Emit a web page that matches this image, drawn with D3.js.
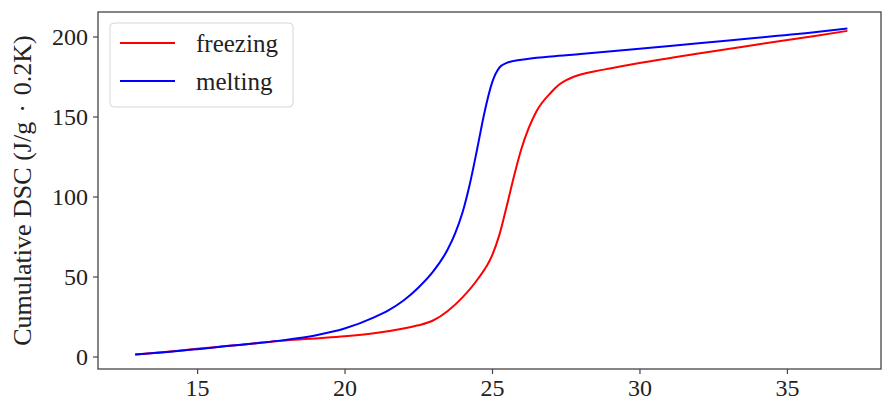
<!DOCTYPE html>
<html>
<head>
<meta charset="utf-8">
<script src="https://cdn.jsdelivr.net/npm/d3@7"></script>
<style>
  html, body { margin: 0; padding: 0; background: #fff; }
  svg { display: block; }
  text { font-family: "Liberation Serif", "Times New Roman", serif; fill: #222; }
</style>
</head>
<body>
<svg id="chart" width="883" height="409"></svg>
<script>
// Temperature (°C) and cumulative DSC values for each run
const freezingT = [12.9, 14, 15, 16, 17, 18, 19, 20, 21, 22, 22.5, 23, 23.5, 24, 24.5, 25, 25.25, 25.5, 25.75, 26, 26.25, 26.5, 27, 27.25, 27.5, 27.75, 28, 28.5, 29, 30, 32, 34, 36, 37.05];
const freezingY = [1.2, 3, 4.8, 6.5, 8.3, 10, 11.3, 12.6, 14.5, 17.5, 19.5, 22.5, 28.5, 37, 48, 63, 76, 94, 113, 130, 143, 153, 165, 169.5, 172.5, 174.7, 176.2, 178.3, 180, 183.4, 189.4, 195, 200.5, 203.5];
const meltingT = [12.9, 14, 15, 16, 17, 18, 19, 20, 21, 21.5, 22, 22.5, 23, 23.5, 23.75, 24, 24.25, 24.5, 24.75, 25, 25.25, 25.5, 26, 27, 28, 30, 32, 34, 36, 37.05];
const meltingY = [1.2, 2.8, 4.6, 6.5, 8.3, 10.4, 13.2, 17.5, 24.5, 29, 35, 43, 53, 67, 77, 90, 108, 130, 153, 171, 180.5, 183.5, 185.5, 187.5, 189, 192.3, 195.8, 199.2, 202.8, 205];

const xTicks = [15, 20, 25, 30, 35];
const yTicks = [0, 50, 100, 150, 200];
const xLimits = [11.64, 38.19];
const yLimits = [-7.8, 215.3];

const seriesNames = ["freezing", "melting"];
const seriesColors = ["#ff0000", "#0000ff"];

const svg = d3.select("#chart");
const plot = { left: 98, right: 881, top: 12, bottom: 369 };

const x = d3.scaleLinear().domain(xLimits).range([plot.left, plot.right]);
const y = d3.scaleLinear().domain(yLimits).range([plot.bottom, plot.top]);

const series = [
  { name: seriesNames[0], color: seriesColors[0], pts: freezingT.map((t, i) => [t, freezingY[i]]) },
  { name: seriesNames[1], color: seriesColors[1], pts: meltingT.map((t, i) => [t, meltingY[i]]) }
];

const line = d3.line()
  .x(d => x(d[0]))
  .y(d => y(d[1]))
  .curve(d3.curveMonotoneX);

svg.append("g")
  .selectAll("path")
  .data(series)
  .join("path")
  .attr("d", d => line(d.pts))
  .attr("fill", "none")
  .attr("stroke", d => d.color)
  .attr("stroke-width", 2);

// Axes
const axisColor = "#444";
const xAxis = svg.append("g")
  .attr("transform", `translate(0,${plot.bottom})`)
  .call(d3.axisBottom(x).tickValues(xTicks).tickSize(5).tickPadding(5).tickFormat(d3.format("d")));
const yAxis = svg.append("g")
  .attr("transform", `translate(${plot.left},0)`)
  .call(d3.axisLeft(y).tickValues(yTicks).tickSize(5).tickPadding(5).tickFormat(d3.format("d")));

[xAxis, yAxis].forEach(g => {
  g.select(".domain").remove();
  g.selectAll(".tick line").attr("stroke", axisColor).attr("stroke-width", 1.2);
  g.selectAll(".tick text")
    .attr("font-family", "Liberation Serif, serif")
    .attr("font-size", 24)
    .attr("fill", "#222");
});

// Frame
svg.append("rect")
  .attr("x", plot.left)
  .attr("y", plot.top)
  .attr("width", plot.right - plot.left)
  .attr("height", plot.bottom - plot.top)
  .attr("fill", "none")
  .attr("stroke", axisColor)
  .attr("stroke-width", 1.3);

// Y label, with operator spacing around the centre dot
const ylab = svg.append("text")
  .attr("transform", `translate(31,${(plot.top + plot.bottom) / 2}) rotate(-90)`)
  .attr("text-anchor", "middle")
  .attr("font-size", 26);
ylab.append("tspan").text("Cumulative DSC (J/g");
ylab.append("tspan").attr("dx", 9).text("\u00b7");
ylab.append("tspan").attr("dx", 9).text("0.2K)");

// Legend
const legend = svg.append("g");
legend.append("rect")
  .attr("x", 110).attr("y", 23)
  .attr("width", 183).attr("height", 84)
  .attr("rx", 4)
  .attr("fill", "#fff").attr("fill-opacity", 0.8)
  .attr("stroke", "#d6d6d6").attr("stroke-width", 1);

const items = legend.selectAll("g.item")
  .data(series)
  .join("g")
  .attr("class", "item")
  .attr("transform", (d, i) => `translate(0,${43 + i * 38})`);
items.append("line")
  .attr("x1", 120).attr("x2", 175)
  .attr("stroke", d => d.color).attr("stroke-width", 2);
items.append("text")
  .attr("x", 196).attr("y", 0)
  .attr("dy", "0.35em")
  .attr("font-size", 25)
  .text(d => d.name);
</script>
</body>
</html>
